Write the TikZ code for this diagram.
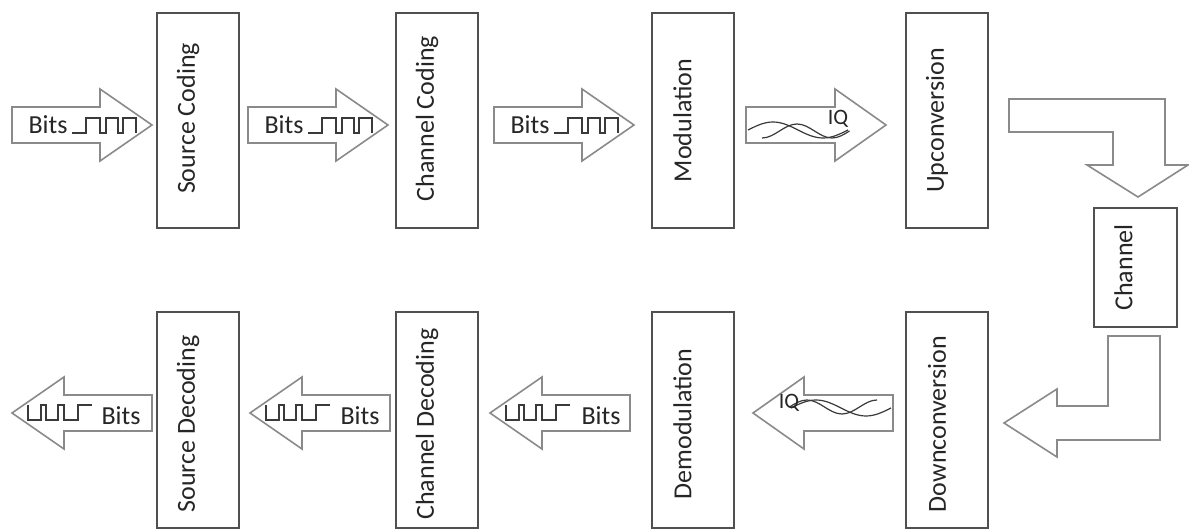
\documentclass[tikz,border=0pt]{standalone}
\usepackage{fontspec}
\setmainfont{Carlito}
\begin{document}
\begin{tikzpicture}[x=0.5pt,y=-0.5pt,
  stage/.style={draw=boxgray,line width=1pt,rectangle,minimum width=41pt,minimum height=107.5pt,inner sep=0pt},
  stagetext/.style={rotate=90,text=txt,font=\fontsize{13}{15}\selectfont,inner sep=0pt},
  sigtext/.style={text=txt,font=\fontsize{13}{15}\selectfont,inner sep=0pt},
  iqtext/.style={text=txt,font=\fontsize{11}{13}\selectfont,inner sep=0pt},
  blockarrow/.style={draw=arrgray,line width=0.8pt,fill=white,line join=miter},
  wave/.style={draw=wavegray,line width=0.6pt},
  pics/bitsarrow/.style={code={
    \draw[blockarrow] (0,-18) -- (88,-18) -- (88,-36) -- (140,0) -- (88,36) -- (88,18) -- (0,18) -- cycle;
    \draw[wave] (60,8) -- (74,8) -- (74,-7) -- (88,-7) -- (88,8) -- (94,8) -- (94,-7) -- (106,-7)
      -- (106,8) -- (111,8) -- (111,-7) -- (124,-7) -- (124,8);
  }},
  pics/iqarrow/.style={code={
    \draw[blockarrow] (0,-18) -- (89,-18) -- (89,-36) -- (140,0) -- (89,36) -- (89,18) -- (0,18) -- cycle;
    \draw[wave] (2,5) sin (27,-3) cos (52,5) sin (77,13) cos (102,5);
    \draw[wave] (16,13) cos (33.5,6) sin (51,-1) cos (68.5,6) sin (86,13) cos (103.5,6);
  }}
]
\definecolor{boxgray}{HTML}{505050}
\definecolor{arrgray}{HTML}{8A8A8A}
\definecolor{wavegray}{HTML}{3A3A3A}
\definecolor{txt}{HTML}{262626}
\useasboundingbox (0,0) rectangle (1189,529);

% transmit chain
\node[stage] (src)  at (198,120.5) {};
\node[stage] (chc)  at (437,120.5) {};
\node[stage] (mod)  at (692.5,120.5) {};
\node[stage] (up)   at (947,120.5) {};
\node[stagetext] at ([xshift=-5pt,yshift=1pt]src.center) {Source Coding};
\node[stagetext] at ([xshift=-5pt,yshift=1pt]chc.center) {Channel Coding};
\node[stagetext] at ([xshift=-5pt]mod.center) {Modulation};
\node[stagetext] at ([xshift=-5pt]up.center) {Upconversion};

% channel
\node[stage,minimum width=41.5pt,minimum height=59.5pt] (ch) at (1135.5,267.5) {};
\node[stagetext] at ([xshift=-6pt]ch.center) {Channel};

% receive chain
\node[stage] (srd)  at (198,420) {};
\node[stage] (chd)  at (437,420) {};
\node[stage] (dem)  at (692.5,420) {};
\node[stage] (down) at (947,420) {};
\node[stagetext] at ([xshift=-5pt,yshift=-2pt]srd.center) {Source Decoding};
\node[stagetext] at ([xshift=-5pt,yshift=-2pt]chd.center) {Channel Decoding};
\node[stagetext] at ([xshift=-5pt,yshift=-2pt]dem.center) {Demodulation};
\node[stagetext] at ([xshift=-5pt,yshift=-2pt]down.center) {Downconversion};

% forward signal arrows
\pic at (12,125) {bitsarrow};
\pic at (248,125) {bitsarrow};
\pic at (494,125) {bitsarrow};
\pic at (746,125) {iqarrow};
\node[sigtext] (b1) at (48,125) {Bits};
\node[sigtext] (b2) at (284,125) {Bits};
\node[sigtext] (b3) at (530,125) {Bits};
\node[iqtext] (iq1) at (838,119) {IQ};

% bends into and out of the channel
\draw[blockarrow] (1009,99) -- (1165,99) -- (1165,165) -- (1188,165) -- (1138,197) -- (1087,165)
  -- (1113,165) -- (1113,132) -- (1009,132) -- cycle;
\draw[blockarrow] (1108,336) -- (1160,336) -- (1160,440) -- (1057,440) -- (1057,457) -- (1004,423)
  -- (1057,389) -- (1057,406) -- (1108,406) -- cycle;

% return signal arrows
\pic[rotate=180] at (152,413) {bitsarrow};
\pic[rotate=180] at (390,413) {bitsarrow};
\pic[rotate=180] at (630,413) {bitsarrow};
\pic[rotate=180] at (893,413) {iqarrow};
\node[sigtext] (b4) at (121,416) {Bits};
\node[sigtext] (b5) at (360,416) {Bits};
\node[sigtext] (b6) at (601,416) {Bits};
\node[iqtext] (iq2) at (789,403) {IQ};
\end{tikzpicture}
\end{document}
